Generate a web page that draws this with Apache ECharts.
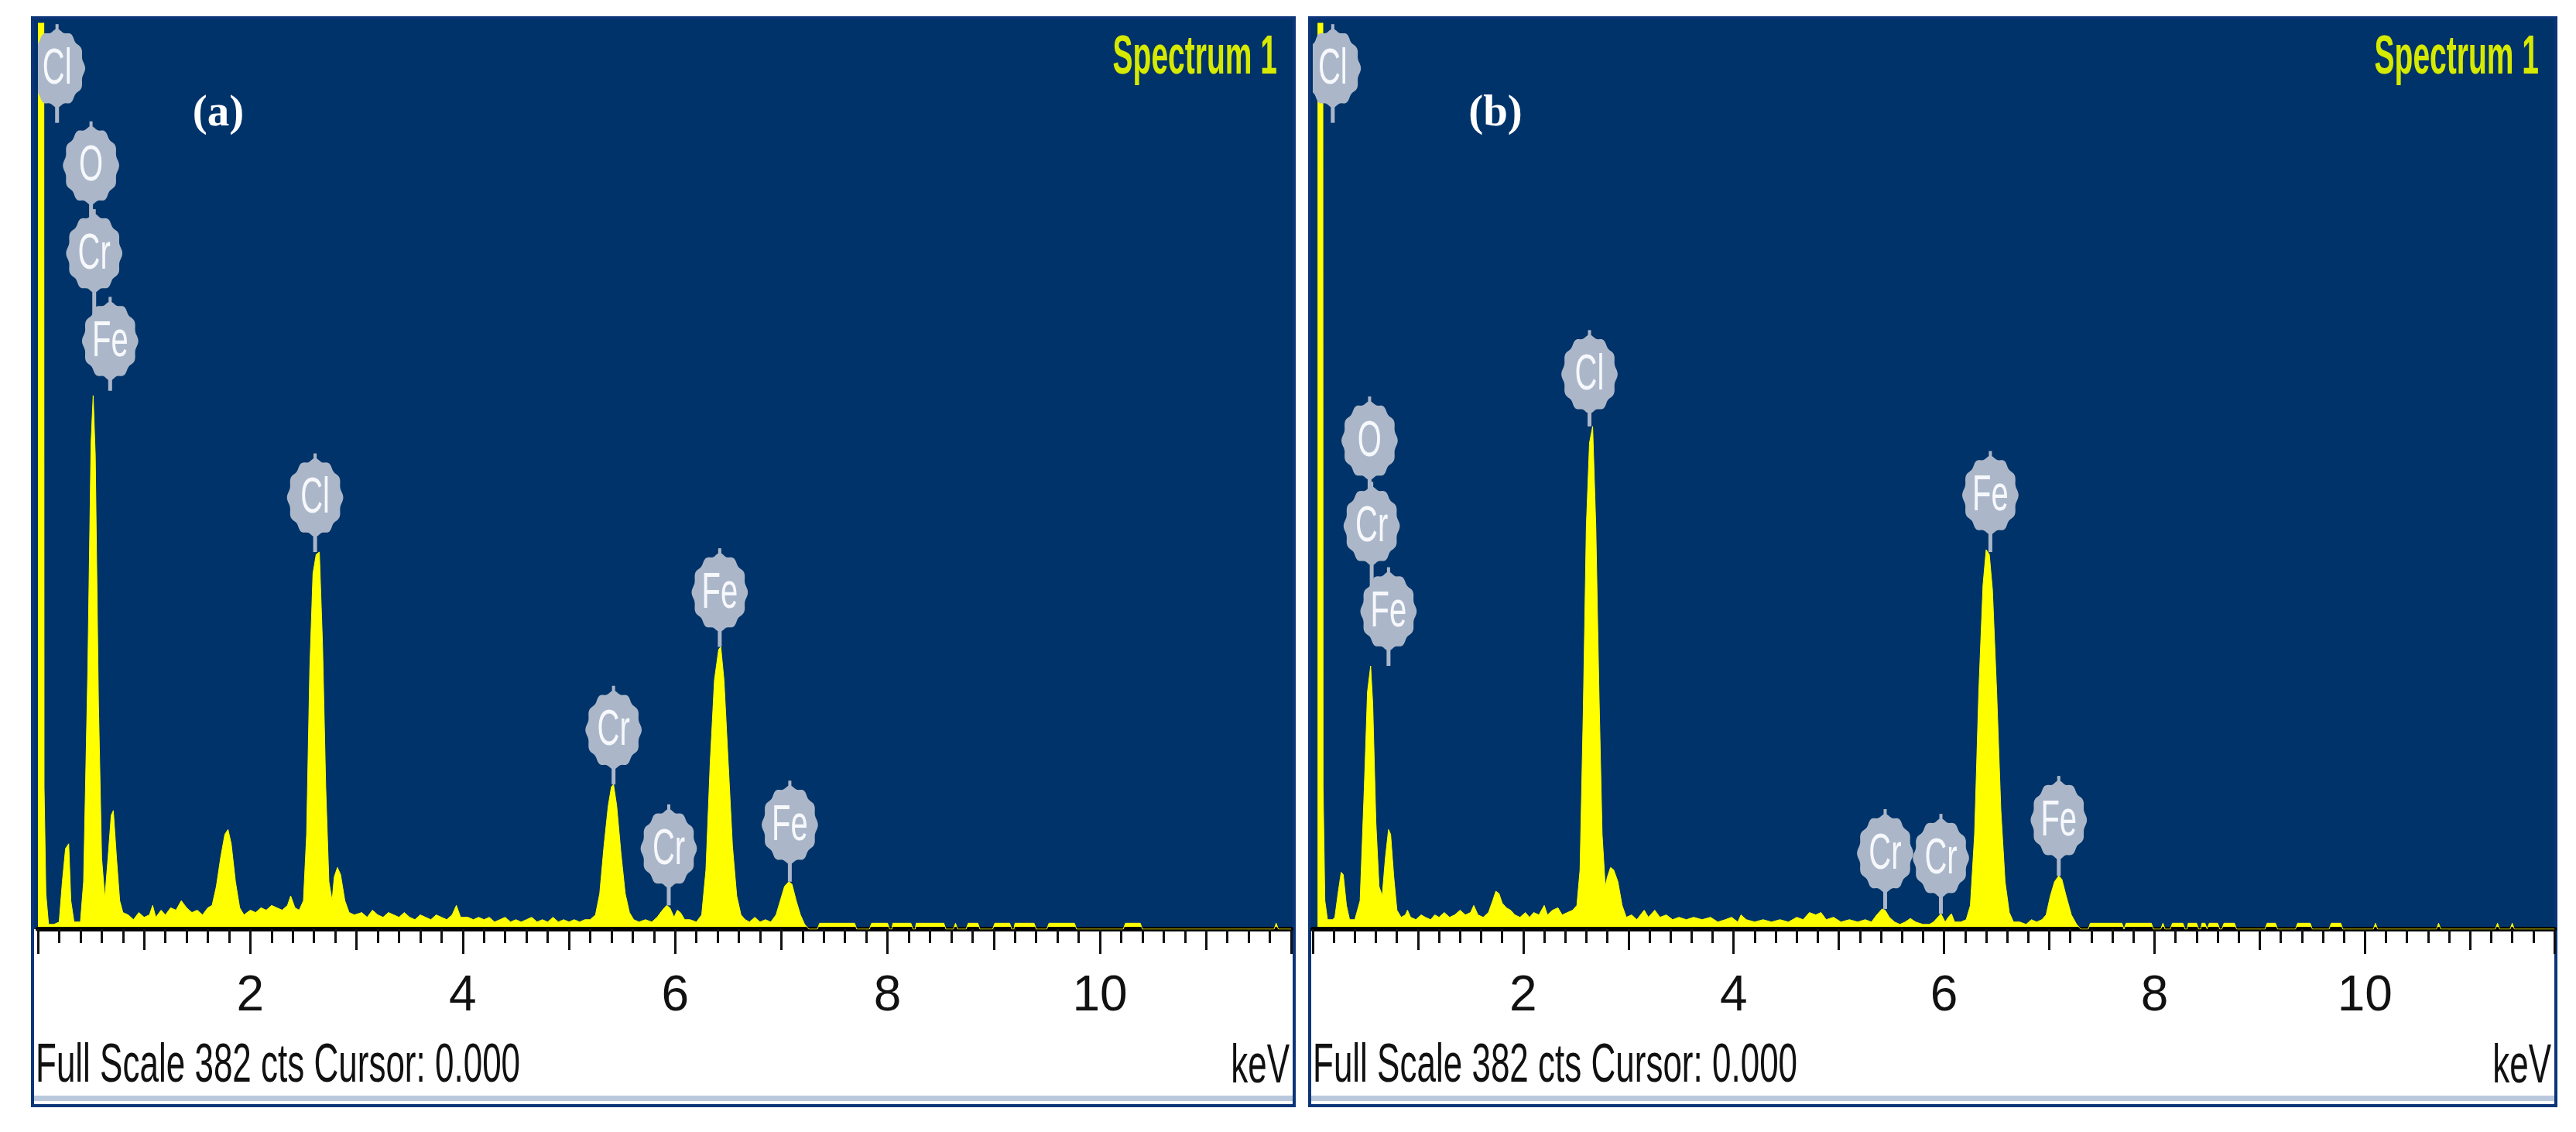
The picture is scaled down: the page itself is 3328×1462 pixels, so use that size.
<!DOCTYPE html>
<html>
<head>
<meta charset="utf-8">
<script src="https://cdn.jsdelivr.net/npm/echarts@6/dist/echarts.min.js"></script>
<style>
  html, body { margin: 0; padding: 0; background: #fff; }
  #main { width: 3328px; height: 1462px; }
</style>
</head>
<body>
<div id="main"></div>
<script>
// EDS spectra, [keV, counts]; full scale is 382 counts
const fullScale = 382;
const energyMax = 11.8;
const tickLabels = [2, 4, 6, 8, 10];

const spectrumA = [
  [0.00, 500], [0.055, 500], [0.058, 60], [0.075, 15], [0.10, 2], [0.15, 2], [0.20, 3],
  [0.23, 20], [0.26, 34], [0.29, 36], [0.31, 12], [0.34, 3], [0.40, 3],
  [0.43, 20], [0.47, 110], [0.50, 205], [0.52, 225], [0.54, 200], [0.57, 95], [0.60, 30], [0.63, 13],
  [0.66, 30], [0.69, 48], [0.71, 50], [0.74, 30], [0.77, 12], [0.80, 7],
  [0.85, 6], [0.90, 4], [0.95, 7], [1.00, 5], [1.05, 6], [1.08, 10], [1.11, 5], [1.16, 8], [1.20, 6],
  [1.25, 9], [1.30, 8], [1.35, 12], [1.40, 9], [1.45, 7], [1.50, 8], [1.55, 6], [1.60, 9], [1.64, 10],
  [1.68, 18], [1.72, 30], [1.76, 40], [1.79, 42], [1.82, 36], [1.86, 20], [1.90, 9], [1.94, 6],
  [2.00, 8], [2.05, 7], [2.10, 9], [2.15, 8], [2.20, 10], [2.25, 9], [2.30, 8], [2.35, 10], [2.38, 14],
  [2.42, 9], [2.46, 8], [2.50, 12],
  [2.53, 40], [2.56, 110], [2.59, 150], [2.62, 158], [2.65, 159], [2.68, 120], [2.71, 60], [2.74, 20], [2.77, 12],
  [2.79, 22], [2.82, 26], [2.85, 23], [2.89, 12], [2.93, 7],
  [2.98, 6], [3.05, 7], [3.10, 5], [3.15, 8], [3.20, 6], [3.25, 5], [3.30, 7], [3.35, 6], [3.40, 5],
  [3.45, 7], [3.50, 5], [3.55, 4], [3.60, 6], [3.65, 5], [3.70, 4], [3.75, 6], [3.80, 5], [3.85, 4],
  [3.90, 6], [3.94, 10], [3.98, 5], [4.05, 5], [4.10, 4], [4.15, 5], [4.20, 4], [4.25, 5], [4.30, 3],
  [4.35, 4], [4.40, 5], [4.45, 3], [4.50, 4], [4.55, 3], [4.60, 4], [4.65, 5], [4.70, 3], [4.75, 4],
  [4.80, 3], [4.85, 5], [4.90, 3], [4.95, 4], [5.00, 3], [5.05, 4], [5.10, 3], [5.15, 4], [5.20, 4], [5.25, 6],
  [5.29, 15], [5.33, 35], [5.37, 52], [5.40, 60], [5.42, 61], [5.45, 52], [5.49, 32], [5.53, 15], [5.57, 7], [5.61, 4],
  [5.66, 3], [5.72, 4], [5.78, 3], [5.83, 5], [5.88, 8], [5.92, 10], [5.95, 9], [5.99, 5], [6.02, 8], [6.05, 7],
  [6.09, 4], [6.14, 4], [6.20, 3],
  [6.25, 6], [6.29, 25], [6.33, 70], [6.37, 105], [6.41, 118], [6.43, 119], [6.46, 105], [6.50, 70], [6.54, 35],
  [6.58, 14], [6.62, 6], [6.66, 4],
  [6.70, 3], [6.75, 5], [6.80, 3], [6.85, 4], [6.90, 3], [6.95, 6],
  [6.99, 12], [7.03, 18], [7.07, 20], [7.10, 19], [7.14, 12], [7.18, 6], [7.22, 2], [7.26, 0],
  [7.34, 0], [7.36, 2.5], [7.69, 2.5], [7.71, 0], [7.83, 0], [7.85, 2.5], [8.00, 2.5], [8.02, 0], [8.04, 0],
  [8.05, 2.5], [8.22, 2.5], [8.24, 0], [8.26, 0], [8.27, 2.5], [8.53, 2.5], [8.55, 0], [8.62, 0], [8.64, 2.5],
  [8.66, 0], [8.74, 0], [8.76, 2.5], [8.85, 2.5], [8.87, 0], [8.99, 0], [9.01, 2.5], [9.15, 2.5], [9.17, 0],
  [9.19, 0], [9.20, 2.5], [9.38, 2.5], [9.40, 0], [9.50, 0], [9.52, 2.5], [9.76, 2.5], [9.78, 0], [10.22, 0],
  [10.24, 2.5], [10.38, 2.5], [10.40, 0], [11.64, 0], [11.66, 2.5], [11.68, 0], [11.8, 0]
];

const spectrumB = [
  [0.045, 500], [0.095, 500], [0.098, 60], [0.115, 12], [0.14, 4], [0.19, 4], [0.21, 5],
  [0.24, 15], [0.27, 24], [0.29, 23], [0.32, 10], [0.35, 4], [0.40, 4],
  [0.45, 12], [0.49, 60], [0.52, 100], [0.55, 111], [0.57, 95], [0.60, 45], [0.63, 18], [0.66, 14],
  [0.69, 30], [0.72, 42], [0.74, 40], [0.77, 22], [0.80, 8], [0.84, 5],
  [0.88, 6], [0.90, 8], [0.93, 5], [0.98, 4], [1.03, 6], [1.07, 5], [1.12, 4], [1.16, 6], [1.20, 5],
  [1.25, 7], [1.30, 5], [1.35, 6], [1.40, 8], [1.45, 6], [1.50, 7], [1.53, 10], [1.57, 6], [1.62, 5], [1.67, 7],
  [1.71, 12], [1.74, 16], [1.77, 15], [1.80, 11], [1.84, 9], [1.88, 8], [1.92, 6],
  [1.97, 5], [2.02, 7], [2.06, 5], [2.10, 7], [2.15, 6], [2.20, 10], [2.23, 6], [2.28, 8], [2.33, 9],
  [2.37, 6], [2.42, 7], [2.47, 8], [2.51, 10],
  [2.54, 25], [2.57, 90], [2.60, 170], [2.63, 205], [2.66, 212], [2.69, 170], [2.72, 100], [2.75, 40], [2.78, 18],
  [2.80, 22], [2.83, 26], [2.86, 25], [2.90, 20], [2.94, 10], [2.98, 5],
  [3.03, 6], [3.08, 4], [3.15, 8], [3.19, 5], [3.25, 8], [3.30, 5], [3.36, 6], [3.42, 4], [3.48, 5],
  [3.55, 4], [3.62, 5], [3.70, 4], [3.78, 5], [3.85, 3], [3.92, 4], [3.98, 5], [4.04, 3], [4.07, 6],
  [4.12, 4], [4.20, 3], [4.28, 4], [4.36, 3], [4.44, 4], [4.52, 3], [4.60, 5], [4.66, 4], [4.72, 7],
  [4.78, 6], [4.83, 7], [4.88, 4], [4.95, 5], [5.02, 3], [5.10, 4], [5.18, 3], [5.25, 4], [5.31, 3],
  [5.36, 6], [5.41, 8.5], [5.44, 8], [5.48, 5], [5.53, 3], [5.58, 2], [5.63, 3], [5.68, 4.5], [5.73, 3],
  [5.80, 2], [5.86, 2], [5.90, 3],
  [5.94, 5], [5.97, 6.5], [6.01, 3], [6.04, 5], [6.07, 6.5], [6.10, 3], [6.16, 3], [6.21, 4],
  [6.25, 10], [6.29, 40], [6.33, 100], [6.37, 145], [6.40, 160], [6.43, 158], [6.46, 143], [6.50, 100],
  [6.54, 50], [6.58, 20], [6.62, 7], [6.66, 3],
  [6.72, 3], [6.78, 2], [6.83, 4], [6.88, 3], [6.93, 4], [6.97, 6],
  [7.01, 14], [7.05, 20], [7.09, 22.5], [7.12, 21], [7.16, 14], [7.21, 6], [7.26, 2], [7.30, 0],
  [7.37, 0], [7.39, 2.5], [7.69, 2.5], [7.71, 0], [7.72, 0], [7.73, 2.5], [7.97, 2.5], [7.99, 0],
  [8.06, 0], [8.08, 2.5], [8.10, 0], [8.15, 0], [8.17, 2.5], [8.27, 2.5], [8.29, 0], [8.31, 0],
  [8.32, 2.5], [8.40, 2.5], [8.42, 0], [8.44, 0], [8.45, 2.5], [8.48, 2.5], [8.50, 0], [8.51, 0],
  [8.52, 2.5], [8.60, 2.5], [8.62, 0], [8.64, 0], [8.66, 2.5], [8.76, 2.5], [8.78, 0], [9.05, 0],
  [9.07, 2.5], [9.15, 2.5], [9.17, 0], [9.34, 0], [9.36, 2.5], [9.48, 2.5], [9.50, 0], [9.66, 0],
  [9.68, 2.5], [9.77, 2.5], [9.79, 0], [10.08, 0], [10.10, 2.5], [10.12, 0], [10.68, 0], [10.70, 2.5],
  [10.72, 0], [11.24, 0], [11.26, 2.5], [11.28, 0], [11.38, 0], [11.40, 2.5], [11.42, 0], [11.8, 0]
];

// element labels: [keV, bubble centre (cts), stem end (cts), element]
const markersA = [
  [0.18, 363, 340, 'Cl'],
  [0.50, 322, 285, 'O'],
  [0.53, 285, 248, 'Cr'],
  [0.68, 248, 227, 'Fe'],
  [2.61, 182, 159, 'Cl'],
  [5.42, 84, 61, 'Cr'],
  [5.94, 34, 10, 'Cr'],
  [6.42, 142, 119, 'Fe'],
  [7.08, 44, 20, 'Fe']
];
const markersB = [
  [0.19, 363, 340, 'Cl'],
  [0.54, 206, 170, 'O'],
  [0.56, 170, 134, 'Cr'],
  [0.72, 134, 111, 'Fe'],
  [2.63, 234, 212, 'Cl'],
  [5.44, 32, 8.5, 'Cr'],
  [5.97, 30, 6.5, 'Cr'],
  [6.44, 183, 159, 'Fe'],
  [7.09, 46, 22.5, 'Fe']
];

const plotBlue = '#003369';
const bubbleGray = '#abb7c9';
const specYellow = '#ffff00';

// scalloped bubble outline
function gearPoints(cx, cy, rx, ry) {
  let pts = [];
  for (let i = 0; i < 96; i++) {
    let t = i / 96 * Math.PI * 2;
    let k = 1 + 0.04 * Math.cos(12 * t);
    pts.push([cx + Math.sin(t) * rx * k, cy - Math.cos(t) * ry * k]);
  }
  return pts;
}

function makeMarkerRender(list) {
  return function (params, api) {
    let m = list[params.dataIndex];
    let c = api.coord([api.value(0), api.value(1)]);
    let s = api.coord([api.value(0), api.value(2)]);
    return {
      type: 'group',
      children: [
        { type: 'line', shape: { x1: c[0], y1: c[1], x2: s[0], y2: s[1] },
          style: { stroke: bubbleGray, lineWidth: 5 } },
        { type: 'line', shape: { x1: c[0], y1: c[1] - 57, x2: c[0], y2: c[1] - 45 },
          style: { stroke: bubbleGray, lineWidth: 4 } },
        { type: 'polygon', shape: { points: gearPoints(c[0], c[1], 35, 49) },
          style: { fill: bubbleGray } },
        { type: 'text', x: c[0], y: c[1] + 2, scaleY: 1.6,
          style: { text: m[3], fill: '#f6f8fc', font: '40px "Liberation Sans", Arial, sans-serif',
                   align: 'center', verticalAlign: 'middle' } }
      ]
    };
  };
}

function xAxesFor(gridIndex) {
  let common = {
    gridIndex: gridIndex, type: 'value', min: 0, max: energyMax, position: 'bottom', z: 3,
    splitLine: { show: false }
  };
  return [
    Object.assign({}, common, {
      interval: 0.2,
      axisLine: { show: true, onZero: false, lineStyle: { color: '#000', width: 6 } },
      axisTick: { show: true, length: 18, lineStyle: { color: '#111', width: 3 } },
      axisLabel: { show: false }
    }),
    Object.assign({}, common, {
      interval: 1,
      axisLine: { show: false, onZero: false },
      axisTick: { show: true, length: 27, lineStyle: { color: '#111', width: 3 } },
      axisLabel: { show: false }
    }),
    Object.assign({}, common, {
      interval: 2,
      axisLine: { show: false, onZero: false },
      axisTick: { show: true, length: 32, lineStyle: { color: '#111', width: 3 } },
      axisLabel: {
        show: true, margin: 87, verticalAlign: 'middle', color: '#111', fontSize: 64,
        fontFamily: '"Liberation Sans Narrow", "Liberation Sans", Arial, sans-serif',
        formatter: function (v) { return tickLabels.indexOf(v) >= 0 ? String(v) : ''; }
      }
    })
  ];
}

function panelGraphics(x0, x1, tag) {
  let txt = '44px "Liberation Sans", Arial, sans-serif';
  return [
    { type: 'rect', shape: { x: x0, y: 23, width: x1 - x0, height: 1405 },
      style: { fill: '#fff', stroke: '#0b3578', lineWidth: 4 } },
    { type: 'rect', shape: { x: x0 + 2, y: 1415, width: x1 - x0 - 4, height: 7 },
      style: { fill: '#b9c8dc' } },
    { type: 'rect', shape: { x: x0 + 2, y: 25, width: x1 - x0 - 4, height: 1175 },
      style: { fill: plotBlue } },
    { type: 'text', x: x0 + 4, y: 1378, scaleY: 1.6,
      style: { text: 'Full Scale 382 cts Cursor: 0.000', fill: '#111', font: txt,
               align: 'left', verticalAlign: 'middle' } },
    { type: 'text', x: x1 - 6, y: 1379, scaleY: 1.6,
      style: { text: 'keV', fill: '#111', font: txt, align: 'right', verticalAlign: 'middle' } },
    { type: 'text', x: x1 - 22, y: 76, scaleY: 1.8,
      style: { text: 'Spectrum 1', fill: '#d6ea00', font: 'bold 39px "Liberation Sans", Arial, sans-serif',
               align: 'right', verticalAlign: 'middle' } },
    { type: 'text', x: x0 + 240, y: 147,
      style: { text: tag, fill: '#ffffff', font: 'bold 57px "Liberation Serif", "Times New Roman", serif',
               align: 'center', verticalAlign: 'middle' } }
  ];
}

let chart = echarts.init(document.getElementById('main'));
let option = {
  animation: false,
  backgroundColor: '#ffffff',
  graphic: panelGraphics(42, 1672, '(a)').concat(panelGraphics(1692, 3302, '(b)')),
  grid: [
    { left: 49, top: 30, width: 1619, height: 1170 },
    { left: 1696, top: 30, width: 1604, height: 1170 }
  ],
  xAxis: xAxesFor(0).concat(xAxesFor(1)),
  yAxis: [
    { gridIndex: 0, type: 'value', min: 0, max: fullScale, show: false },
    { gridIndex: 1, type: 'value', min: 0, max: fullScale, show: false }
  ],
  series: [
    { type: 'line', xAxisIndex: 0, yAxisIndex: 0, data: spectrumA, showSymbol: false, clip: true,
      lineStyle: { color: specYellow, width: 1 }, areaStyle: { color: specYellow, opacity: 1 } },
    { type: 'line', xAxisIndex: 3, yAxisIndex: 1, data: spectrumB, showSymbol: false, clip: true,
      lineStyle: { color: specYellow, width: 1 }, areaStyle: { color: specYellow, opacity: 1 } },
    { type: 'custom', xAxisIndex: 0, yAxisIndex: 0, clip: true, z: 4,
      renderItem: makeMarkerRender(markersA),
      data: markersA.map(function (m) { return [m[0], m[1], m[2]]; }) },
    { type: 'custom', xAxisIndex: 3, yAxisIndex: 1, clip: true, z: 4,
      renderItem: makeMarkerRender(markersB),
      data: markersB.map(function (m) { return [m[0], m[1], m[2]]; }) }
  ]
};
chart.setOption(option);
</script>
</body>
</html>
